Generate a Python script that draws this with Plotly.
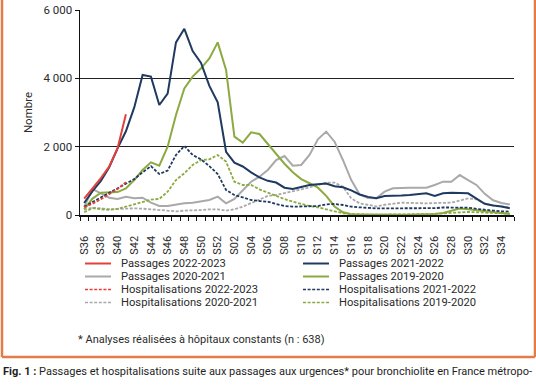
import plotly.graph_objects as go

# ---------------- data ----------------
weeks = ["S36", "S37", "S38", "S39", "S40", "S41", "S42", "S43", "S44", "S45", "S46", "S47",
         "S48", "S49", "S50", "S51", "S52", "S01", "S02", "S03", "S04", "S05", "S06", "S07",
         "S08", "S09", "S10", "S11", "S12", "S13", "S14", "S15", "S16", "S17", "S18", "S19",
         "S20", "S21", "S22", "S23", "S24", "S25", "S26", "S27", "S28", "S29", "S30", "S31",
         "S32", "S33", "S34", "S35"]

passages_2022_2023 = [480, 780, 1080, 1420, 1950, 2950]
passages_2021_2022 = [350, 700, 1000, 1400, 1950, 2450, 3150, 4100, 4050, 3220,
                      3550, 5050, 5450, 4800, 4450, 3780, 3300, 1850, 1530, 1420,
                      1250, 1100, 1000, 950, 800, 760, 820, 880, 900, 920,
                      840, 810, 720, 600, 530, 490, 556, 556, 570, 585,
                      610, 634, 560, 634, 654, 650, 634, 480, 330, 280,
                      250, 195]
passages_2020_2021 = [230, 760, 634, 507, 470, 536, 488, 507, 361, 263,
                      263, 312, 341, 361, 390, 439, 537, 340, 470, 732,
                      975, 1120, 1317, 1610, 1727, 1444, 1463, 1756, 2215, 2440,
                      2146, 1610, 1024, 600, 500, 488, 683, 780, 800, 800,
                      800, 800, 878, 975, 975, 1170, 1020, 880, 620, 430,
                      350, 310]
passages_2019_2020 = [166, 480, 654, 654, 670, 780, 1024, 1317, 1541, 1444,
                      2000, 2927, 3707, 4049, 4293, 4585, 5053, 4244, 2293, 2117,
                      2420, 2370, 2078, 1800, 1500, 1250, 1050, 930, 800, 560,
                      250, 80, 20, 15, 10, 10, 10, 10, 10, 10,
                      15, 20, 30, 60, 120, 190, 170, 140, 100, 70,
                      50, 30]
hospit_2022_2023 = [230, 330, 460, 600, 760, 960]
hospit_2021_2022 = [245, 380, 500, 630, 760, 900, 1050, 1250, 1430, 1200,
                    1300, 1756, 2020, 1756, 1629, 1430, 1200, 732, 585, 517,
                    439, 410, 390, 322, 263, 244, 244, 244, 263, 312,
                    322, 293, 244, 224, 200, 195, 195, 195, 190, 185,
                    185, 190, 200, 220, 224, 220, 215, 180, 146, 130,
                    110, 98]
hospit_2020_2021 = [150, 215, 195, 170, 176, 195, 195, 185, 166, 127,
                    107, 107, 127, 127, 146, 166, 166, 127, 166, 244,
                    341, 459, 556, 585, 634, 683, 751, 810, 878, 946,
                    946, 830, 488, 341, 300, 250, 300, 340, 360, 355,
                    345, 341, 350, 355, 361, 420, 488, 459, 330, 280,
                    250, 224]
hospit_2019_2020 = [80, 200, 170, 150, 180, 240, 310, 380, 450, 470,
                    683, 1024, 1220, 1463, 1610, 1629, 1756, 1561, 975, 878,
                    878, 751, 654, 556, 468, 390, 322, 263, 224, 166,
                    98, 49, 30, 15, 10, 10, 10, 10, 10, 10,
                    15, 20, 30, 50, 70, 85, 90, 80, 70, 60,
                    50, 40]

y_ticks = [0, 2000, 4000, 6000]
y_ticktext = ["0", "2 000", "4 000", "6 000"]

# ---------------- style ----------------
RED = "#E4403B"
BLUE = "#1F3A60"
GRAY = "#A9A9A9"
GREEN = "#8CAA42"
ORANGE = "#E27C48"
TXT = "#2b2b2b"
FONT = "Roboto"
DASH = "3px,1.6px"

series = [
    ("Passages 2020-2021", passages_2020_2021, GRAY, "solid"),
    ("Hospitalisations 2020-2021", hospit_2020_2021, GRAY, DASH),
    ("Passages 2019-2020", passages_2019_2020, GREEN, "solid"),
    ("Hospitalisations 2019-2020", hospit_2019_2020, GREEN, DASH),
    ("Passages 2021-2022", passages_2021_2022, BLUE, "solid"),
    ("Hospitalisations 2021-2022", hospit_2021_2022, BLUE, DASH),
    ("Passages 2022-2023", passages_2022_2023, RED, "solid"),
    ("Hospitalisations 2022-2023", hospit_2022_2023, RED, DASH),
]

W_FIG, H_FIG = 536, 386
L, R, T, B = 80, 22, 10, 171
PW, PH = W_FIG - L - R, H_FIG - T - B


def px(x):
    return (x - L) / PW


def py(y):
    return (T + PH - y) / PH


fig = go.Figure()
for name, vals, col, dash in series:
    fig.add_trace(go.Scatter(
        x=list(range(len(vals))), y=vals, mode="lines", name=name,
        line=dict(color=col, width=2 if dash == "solid" else 1.8, dash=dash),
        showlegend=False, hoverinfo="skip"))

# custom compact legend (two columns)
legend_layout = [
    ("Passages 2022-2023", RED, "solid", 0, 0),
    ("Passages 2020-2021", GRAY, "solid", 0, 1),
    ("Hospitalisations 2022-2023", RED, DASH, 0, 2),
    ("Hospitalisations 2020-2021", GRAY, DASH, 0, 3),
    ("Passages 2021-2022", BLUE, "solid", 1, 0),
    ("Passages 2019-2020", GREEN, "solid", 1, 1),
    ("Hospitalisations 2021-2022", BLUE, DASH, 1, 2),
    ("Hospitalisations 2019-2020", GREEN, DASH, 1, 3),
]
col_x = [85, 303]
row_y = [263.5, 276.5, 289.5, 302.5]
shapes = []
annotations = []
for name, col, dash, c, r in legend_layout:
    x0 = col_x[c]
    yy = row_y[r]
    shapes.append(dict(type="line", xref="paper", yref="paper",
                       x0=px(x0), x1=px(x0 + 26), y0=py(yy), y1=py(yy),
                       line=dict(color=col, width=2 if dash == "solid" else 1.6, dash=dash)))
    annotations.append(dict(xref="paper", yref="paper", x=px(x0 + 34), y=py(yy),
                            xanchor="left", yanchor="middle", showarrow=False,
                            text=name, font=dict(family=FONT, size=11.2, color=TXT)))

# orange frame
for x0, y0, x1, y1 in [(2, -5, 2, 357), (535, -5, 535, 357), (2, 357, 535, 357)]:
    shapes.append(dict(type="line", xref="paper", yref="paper",
                       x0=px(x0), x1=px(x1), y0=py(y0), y1=py(y1),
                       line=dict(color=ORANGE, width=2.5)))

annotations.append(dict(xref="paper", yref="paper", x=px(76), y=py(339),
                        xanchor="left", yanchor="middle", showarrow=False,
                        text="* Analyses réalisées à hôpitaux constants (n : 638)",
                        font=dict(family=FONT, size=11, color=TXT)))
annotations.append(dict(xref="paper", yref="paper", x=px(0.5), y=py(371),
                        xanchor="left", yanchor="middle", showarrow=False,
                        text="<b>Fig. 1 :</b> Passages et hospitalisations suite aux passages aux urgences* pour bronchiolite en France métropo-",
                        font=dict(family=FONT, size=11, color="#1e1e1e")))

fig.update_layout(
    width=W_FIG, height=H_FIG,
    margin=dict(l=L, r=R, t=T, b=B, pad=0, autoexpand=False),
    paper_bgcolor="white", plot_bgcolor="white",
    font=dict(family=FONT, size=11, color=TXT),
    showlegend=False,
    shapes=shapes, annotations=annotations,
    xaxis=dict(
        range=[-0.5, len(weeks) - 0.5],
        tickmode="array",
        tickvals=list(range(0, len(weeks), 2)),
        ticktext=weeks[::2],
        tickangle=-90,
        ticks="",
        ticklabelstandoff=15,
        tickfont=dict(family=FONT, size=11, color=TXT),
        showgrid=False, zeroline=False,
        showline=True, linecolor="#111111", linewidth=1.5,
        minor=dict(ticks="outside", ticklen=4, tickwidth=1, tickcolor="#111111",
                   tickmode="array", tickvals=[i - 0.5 for i in range(len(weeks) + 1)],
                   showgrid=False),
        automargin=False,
        fixedrange=True,
    ),
    yaxis=dict(
        range=[0, 6000],
        tickmode="array", tickvals=y_ticks, ticktext=y_ticktext,
        ticks="outside", ticklen=4, tickcolor="#111111",
        tickfont=dict(family=FONT, size=11.5, color=TXT),
        showgrid=True, gridcolor="#222222", gridwidth=1.4,
        zeroline=False,
        showline=True, linecolor="#111111", linewidth=1.5,
        title=dict(text="Nombre", standoff=8, font=dict(family=FONT, size=11.5, color=TXT)),
        automargin=False,
        fixedrange=True,
    ),
)

fig.write_html(
    "out.html",
    config={"displayModeBar": False, "staticPlot": True},
    post_script="document.body.style.margin='0';document.body.style.padding='0';"
                "document.body.style.overflow='hidden';",
)
